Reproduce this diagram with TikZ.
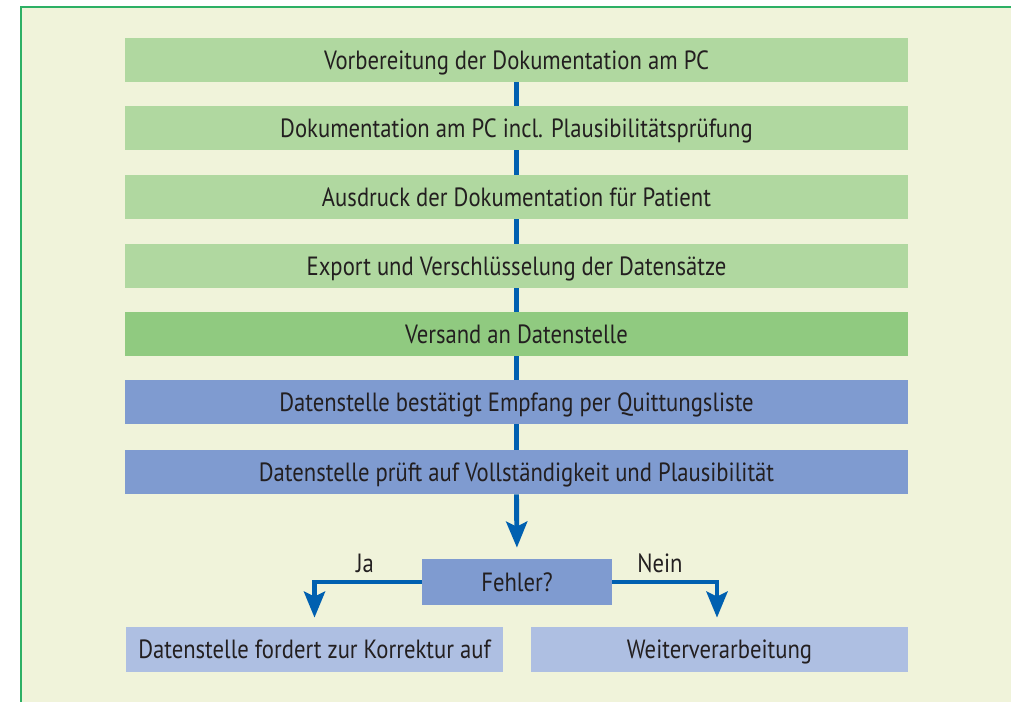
\documentclass[tikz,border=0pt]{standalone}
\usepackage{fontspec}
\setmainfont[FakeStretch=0.86]{PT Sans}
\usetikzlibrary{arrows.meta,calc}
\definecolor{panel}{HTML}{F0F3DA}
\definecolor{frame}{HTML}{2DB065}
\definecolor{lgreen}{HTML}{B0D8A0}
\definecolor{dgreen}{HTML}{90CA80}
\definecolor{dblue}{HTML}{7F9BD0}
\definecolor{lblue}{HTML}{AEBFE2}
\definecolor{flow}{HTML}{0060B0}
\definecolor{ink}{HTML}{231F20}
\tikzset{stepbox/.style={minimum width=15.66cm,minimum height=.88cm,inner sep=0pt,
  text depth=0pt,font=\fontsize{15}{17}\selectfont,text=ink},
flowline/.style={line width=2.8pt,flow},
flowarrow/.style={flowline,-{Stealth[length=5.2mm,width=4.2mm,inset=1mm]}},
lab/.style={font=\fontsize{15}{17}\selectfont,text=ink}}
\begin{document}
\begin{tikzpicture}[x=.02cm,y=-.02cm]
\useasboundingbox (0,0) rectangle (1011,702);
\fill[panel] (21,7) rectangle (1011,702);
\draw[frame,line width=1.2pt] (21,702)--(21,7)--(1011,7);
% process steps
\node[stepbox,fill=lgreen] (s1) at (516.5,60) {Vorbereitung der Dokumentation am PC};
\node[stepbox,fill=lgreen] (s2) at (516.5,128) {Dokumentation am PC incl. Plausibilitätsprüfung};
\node[stepbox,fill=lgreen] (s3) at (516.5,197) {Ausdruck der Dokumentation für Patient};
\node[stepbox,fill=lgreen] (s4) at (516.5,266) {Export und Verschlüsselung der Datensätze};
\node[stepbox,fill=dgreen] (s5) at (516.5,334) {Versand an Datenstelle};
\node[stepbox,fill=dblue] (s6) at (516.5,402) {Datenstelle bestätigt Empfang per Quittungsliste};
\node[stepbox,fill=dblue] (s7) at (516.5,472) {Datenstelle prüft auf Vollständigkeit und Plausibilität};
\foreach \a/\b in {s1/s2,s2/s3,s3/s4,s4/s5,s5/s6,s6/s7}
 {\draw[flowline] (\a.south)--(\b.north);}
% decision
\node[stepbox,fill=dblue,minimum width=3.8cm,minimum height=.92cm] (err) at (517,582) {Fehler?};
\node[stepbox,fill=lblue,minimum width=7.54cm,minimum height=.9cm] (fix) at (314.5,649.5) {Datenstelle fordert zur Korrektur auf};
\node[stepbox,fill=lblue,minimum width=7.54cm,minimum height=.9cm] (go) at (719.5,649.5) {Weiterverarbeitung};
\draw[flowarrow,shorten >=.22cm] (s7.south)--(err.north);
\draw[flowarrow,shorten >=.18cm] (err.west)-|(fix.north);
\draw[flowarrow,shorten >=.18cm] (err.east)-|($(go.north)+(-2.5,0)$);
\node[lab] (ja) at (365,563) {Ja};
\node[lab] (nein) at (660,563) {Nein};
\end{tikzpicture}
\end{document}
